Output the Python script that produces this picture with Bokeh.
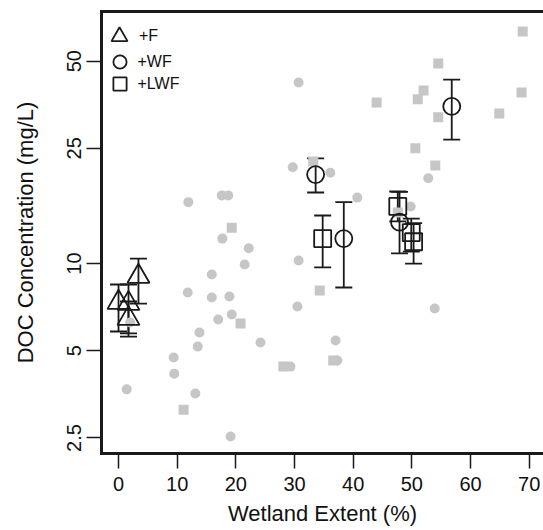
from bokeh.plotting import figure
from bokeh.models import (Range1d, FixedTicker, CustomJSTickFormatter, LinearAxis,
                          Whisker, TeeHead, ColumnDataSource, Legend, LegendItem)
from bokeh.embed import file_html
from bokeh.resources import INLINE

# ---- data ----
gray_circle_x = [30.7, 1.4, 2.0, 11.9, 17.6, 18.7, 17.7, 22.2, 21.5, 15.9, 11.8, 15.9,
                 18.9, 19.3, 17.0, 13.8, 13.5, 9.4, 9.5, 13.1, 19.1, 24.2, 30.5, 30.7,
                 37.0, 37.3, 29.3, 29.7, 36.1, 40.7, 49.8, 52.8, 53.9]
gray_circle_y = [42.2, 3.68, 6.26, 16.3, 17.2, 17.2, 12.2, 11.3, 9.93, 9.17, 7.95, 7.64,
                 7.70, 6.67, 6.41, 5.78, 5.17, 4.74, 4.17, 3.56, 2.53, 5.34, 7.11, 10.25,
                 5.43, 4.63, 4.41, 21.5, 20.6, 16.9, 15.75, 19.7, 7.0]

gray_square_x = [19.3, 20.8, 11.1, 34.3, 36.6, 28.1, 44.0, 54.5, 52.0, 51.0, 54.5, 68.9,
                 68.7, 64.9, 50.6, 54.0, 47.6, 33.2]
gray_square_y = [13.3, 6.21, 3.13, 8.08, 4.63, 4.41, 36.0, 49.1, 39.6, 36.9, 32.0, 63.3,
                 39.0, 33.0, 25.0, 21.8, 15.0, 22.5]

f_x = [0.0, 1.7, 1.7, 3.4]
f_y = [7.34, 7.28, 6.46, 9.03]
f_lo = [5.83, 5.74, 5.60, 7.28]
f_hi = [8.47, 8.47, 7.40, 10.4]

wf_x = [33.6, 38.4, 47.9, 56.8]
wf_y = [20.3, 12.2, 13.9, 34.9]
wf_lo = [17.6, 8.27, 10.84, 26.8]
wf_hi = [23.07, 16.3, 17.7, 43.2]

lwf_x = [34.8, 47.6, 49.9, 50.3]
lwf_y = [12.2, 15.75, 12.8, 11.9]
lwf_lo = [9.70, 14.0, 11.0, 10.0]
lwf_hi = [14.66, 17.74, 14.3, 13.8]

x_ticks = [0, 10, 20, 30, 40, 50, 60, 70]
y_ticks = [2.5, 5, 10, 25, 50]
legend_labels = ["+F", "+WF", "+LWF"]
x_title = "Wetland Extent (%)"
y_title = "DOC Concentration (mg/L)"

FONT = "Liberation Sans"
BLACK = "#1a1a1a"
GRAY = "#c6c6c6"

p = figure(width=543, height=530, x_range=Range1d(-2.9, 72.44), y_range=Range1d(2.21, 74.2),
           y_axis_type="log", output_backend="svg", toolbar_location=None,
           min_border_left=101, min_border_right=0, min_border_top=11, min_border_bottom=77)
p.xgrid.visible = False
p.ygrid.visible = False
p.outline_line_color = None
p.background_fill_color = "white"
p.border_fill_color = "white"

# axes
p.xaxis.ticker = FixedTicker(ticks=x_ticks)
p.yaxis.ticker = FixedTicker(ticks=y_ticks)
p.yaxis.formatter = CustomJSTickFormatter(code="return tick.toString()")
p.xaxis.axis_label = x_title
p.yaxis.axis_label = y_title
for ax in (p.xaxis[0], p.yaxis[0]):
    ax.axis_line_width = 3
    ax.axis_line_color = BLACK
    ax.axis_line_cap = "square"
    ax.major_tick_line_width = 1.5
    ax.major_tick_line_color = BLACK
    ax.major_tick_out = 15
    ax.major_tick_in = 0
    ax.minor_tick_out = 0
    ax.minor_tick_in = 0
    ax.major_label_text_font = FONT
    ax.major_label_text_font_size = "20px"
    ax.major_label_text_color = "#111111"
    ax.axis_label_text_font = FONT
    ax.axis_label_text_font_size = "22px"
    ax.axis_label_text_font_style = "normal"
    ax.axis_label_text_color = "#111111"
p.xaxis.major_label_standoff = 8
p.xaxis.axis_label_standoff = 7
p.yaxis.major_label_standoff = 5
p.yaxis.axis_label_standoff = 27
p.yaxis.major_label_orientation = "vertical"

top_axis = LinearAxis(ticker=FixedTicker(ticks=[]), axis_line_width=3, axis_line_color=BLACK,
                      axis_line_cap="square", major_tick_out=0, major_tick_in=0,
                      minor_tick_out=0, minor_tick_in=0, major_label_standoff=0)
p.add_layout(top_axis, "above")

# background data
p.scatter(gray_circle_x, gray_circle_y, marker="circle", size=10, fill_color=GRAY,
          line_color=None)
p.scatter(gray_square_x, gray_square_y, marker="square", size=10, fill_color=GRAY,
          line_color=None)

# groups with error bars
groups = [
    (f_x, f_y, f_lo, f_hi, "triangle", 22),
    (wf_x, wf_y, wf_lo, wf_hi, "circle", 17),
    (lwf_x, lwf_y, lwf_lo, lwf_hi, "square", 17),
]
renderers = []
for gx, gy, glo, ghi, mk, sz in groups:
    src = ColumnDataSource(data=dict(x=gx, y=gy, lo=glo, hi=ghi))
    w = Whisker(source=src, base="x", lower="lo", upper="hi", dimension="height",
                line_color=BLACK, line_width=1.8,
                upper_head=TeeHead(size=17, line_color=BLACK, line_width=1.8),
                lower_head=TeeHead(size=17, line_color=BLACK, line_width=1.8))
    p.add_layout(w)
    r = p.scatter("x", "y", source=src, marker=mk, size=sz, fill_color=None,
                  line_color=BLACK, line_width=1.8)
    renderers.append(r)

# one legend box per entry so that each symbol gets its own size and the rows stay close
legend_specs = [  # (glyph box, location from frame bottom-left, label standoff)
    (40, (-2, 397), 0),
    (33, (1.5, 375), 2),
    (33, (1.5, 353), 2),
]
for lab, r, (gbox, loc, stand) in zip(legend_labels, renderers, legend_specs):
    lg = Legend(items=[LegendItem(label=lab, renderers=[r])], location=loc,
                glyph_width=gbox, glyph_height=gbox, spacing=0, padding=0, margin=0,
                label_standoff=stand, label_text_font=FONT, label_text_font_size="16px",
                label_text_color="#111111", border_line_color=None,
                background_fill_alpha=0)
    p.add_layout(lg)

open("out.html", "w").write(file_html(p, INLINE))
